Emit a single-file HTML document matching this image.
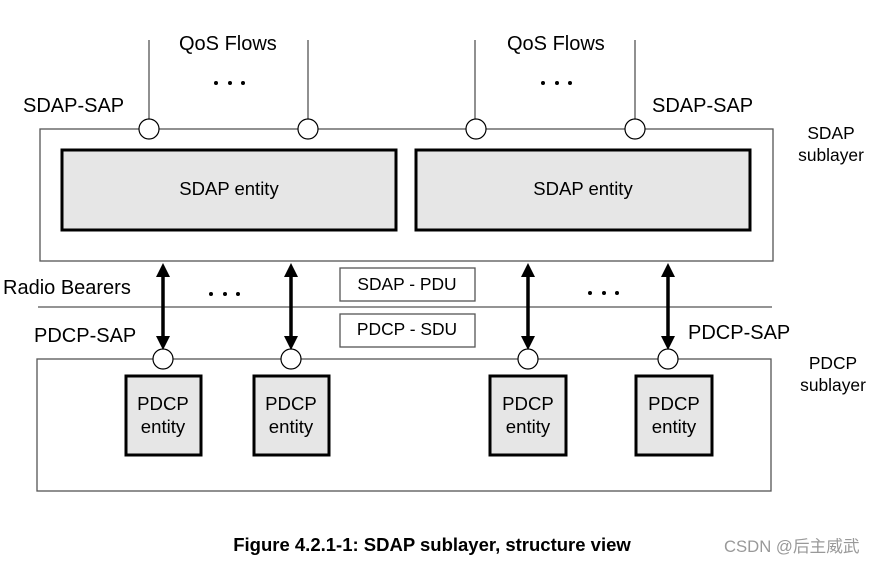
<!DOCTYPE html>
<html><head><meta charset="utf-8"><style>
html,body{margin:0;padding:0;background:#fff;}
svg{display:block;}
text{font-family:"Liberation Sans",Arial,sans-serif;fill:#000;}
</style></head><body>
<svg width="876" height="564" viewBox="0 0 876 564" xmlns="http://www.w3.org/2000/svg">
<defs>
<marker id="ah" markerWidth="4" markerHeight="4" refX="2" refY="2" orient="auto-start-reverse" markerUnits="strokeWidth"><path d="M0,0 L4,2 L0,4 z" fill="#000"/></marker>
</defs>
<g stroke="#555" stroke-width="1.3" fill="none">
<line x1="149" y1="40" x2="149" y2="120"/>
<line x1="308" y1="40" x2="308" y2="120"/>
<line x1="475" y1="40" x2="475" y2="120"/>
<line x1="635" y1="40" x2="635" y2="120"/>
<rect x="40" y="129" width="733" height="132" fill="#fff"/>
<line x1="38" y1="307" x2="772" y2="307"/>
<rect x="37" y="359" width="734" height="132" fill="#fff"/>
<rect x="340" y="268" width="135" height="33" fill="#fff"/>
<rect x="340" y="314" width="135" height="33" fill="#fff"/>
</g>
<g fill="#e6e6e6" stroke="#000" stroke-width="3">
<rect x="62" y="150" width="334" height="80"/>
<rect x="416" y="150" width="334" height="80"/>
<rect x="126" y="376" width="75" height="79"/>
<rect x="254" y="376" width="75" height="79"/>
<rect x="490" y="376" width="76" height="79"/>
<rect x="636" y="376" width="76" height="79"/>
</g>
<g stroke="#000" stroke-width="3.5" marker-start="url(#ah)" marker-end="url(#ah)">
<line x1="163" y1="270" x2="163" y2="343"/>
<line x1="291" y1="270" x2="291" y2="343"/>
<line x1="528" y1="270" x2="528" y2="343"/>
<line x1="668" y1="270" x2="668" y2="343"/>
</g>
<g fill="#fff" stroke="#000" stroke-width="1.2">
<circle cx="149" cy="129" r="10"/>
<circle cx="308" cy="129" r="10"/>
<circle cx="476" cy="129" r="10"/>
<circle cx="635" cy="129" r="10"/>
<circle cx="163" cy="359" r="10"/>
<circle cx="291" cy="359" r="10"/>
<circle cx="528" cy="359" r="10"/>
<circle cx="668" cy="359" r="10"/>
</g>
<g fill="#000">
<circle cx="216" cy="83" r="2"/><circle cx="230" cy="83" r="2"/><circle cx="243" cy="83" r="2"/>
<circle cx="543" cy="83" r="2"/><circle cx="557" cy="83" r="2"/><circle cx="570" cy="83" r="2"/>
<circle cx="211" cy="294" r="2"/><circle cx="225" cy="294" r="2"/><circle cx="238" cy="294" r="2"/>
<circle cx="590" cy="293" r="2"/><circle cx="604" cy="293" r="2"/><circle cx="617" cy="293" r="2"/>
</g>
<g font-size="20">
<text x="179" y="50">QoS Flows</text>
<text x="507" y="50">QoS Flows</text>
<text x="23" y="112">SDAP-SAP</text>
<text x="652" y="112">SDAP-SAP</text>
<text x="3" y="294">Radio Bearers</text>
<text x="34" y="342">PDCP-SAP</text>
<text x="688" y="339">PDCP-SAP</text>
</g>
<g font-size="18.5">
<text x="229" y="195" text-anchor="middle">SDAP entity</text>
<text x="583" y="195" text-anchor="middle">SDAP entity</text>
</g>
<g font-size="17.4">
<text x="407" y="290" text-anchor="middle">SDAP - PDU</text>
<text x="407" y="335" text-anchor="middle">PDCP - SDU</text>
<text x="831" y="139" text-anchor="middle">SDAP</text>
<text x="831" y="161" text-anchor="middle">sublayer</text>
<text x="833" y="369" text-anchor="middle">PDCP</text>
<text x="833" y="391" text-anchor="middle">sublayer</text>
</g>
<g font-size="18.6" text-anchor="middle">
<text x="163" y="410">PDCP</text><text x="163" y="433">entity</text>
<text x="291" y="410">PDCP</text><text x="291" y="433">entity</text>
<text x="528" y="410">PDCP</text><text x="528" y="433">entity</text>
<text x="674" y="410">PDCP</text><text x="674" y="433">entity</text>
</g>
<text x="432" y="551" font-size="18.5" font-weight="bold" text-anchor="middle">Figure 4.2.1-1: SDAP sublayer, structure view</text>
<text x="724" y="552" font-size="16.7" style="fill:#999;font-family:'Liberation Sans','Noto Sans CJK SC',sans-serif">CSDN @后主威武</text>
</svg>
</body></html>
